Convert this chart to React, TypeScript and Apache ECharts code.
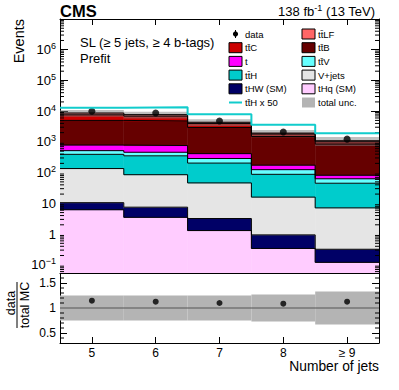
import React, { useEffect, useRef } from "react";
import * as echarts from "echarts";

// ---------- data ----------
const binLabels = ["5", "6", "7", "8", "≥ 9"];
const binCenters = [5, 6, 7, 8, 9];

// processes, stacked bottom -> top
const tHq = [6.2, 3.5, 1.3, 0.34, 0.12];
const tHW = [4.3, 4.0, 1.9, 0.6, 0.2];
const vJets = [125, 78, 43, 15, 6.8];
const ttH = [258, 266, 158, 72, 38];
const ttV = [126, 108, 84, 37, 18];
const singleT = [270, 300, 127, 50, 19];
const ttB = [4210, 4040, 2535, 1325, 768];
const ttC = [2600, 2100, 1000, 300, 160];
const ttLF = [1100, 800, 400, 130, 80];

const dataCounts = [10000, 8700, 4800, 2100, 1230];
const ratioValues = [1.146, 1.126, 1.1, 1.086, 1.126];
const relUnc = [0.25, 0.25, 0.25, 0.27, 0.33];
const ttHScale = 50;

const yTickLabelsRatio = [0.5, 1, 1.5];
const ratioMinor = [0.4, 0.6, 0.7, 0.8, 0.9, 1.1, 1.2, 1.3, 1.4, 1.6];

// ---------- styling ----------
const FONT = "'Liberation Sans', Arial, Helvetica, sans-serif";
const Y_MIN = 0.054;
const Y_MAX = 1e7;
const R_MIN = 0.3;
const R_MAX = 1.7;
const X_MIN = 4.5;
const X_MAX = 9.5;

const layers = [
  { name: "tHq (SM)", values: tHq, color: "#ffccff" },
  { name: "tHW (SM)", values: tHW, color: "#000066" },
  { name: "V+jets", values: vJets, color: "#e5e5e5" },
  { name: "tt\u0304H", values: ttH, color: "#00cccc" },
  { name: "tt\u0304V", values: ttV, color: "#66ffff" },
  { name: "t", values: singleT, color: "#ff00ff" },
  { name: "tt\u0304B", values: ttB, color: "#660000" },
  { name: "tt\u0304C", values: ttC, color: "#cc0000" },
  { name: "tt\u0304LF", values: ttLF, color: "#ff6666" },
];

const cum = layers.map((_, l) =>
  binCenters.map((__, i) => layers.slice(0, l + 1).reduce((s, L) => s + L.values[i], 0))
);
const total = cum[cum.length - 1];

const minorLog: number[] = [];
for (let d = -2; d <= 6; d++) {
  for (let k = 2; k <= 9; k++) {
    const v = k * Math.pow(10, d);
    if (v > Y_MIN && v < Y_MAX) minorLog.push(v);
  }
}

const stepData = (vals: number[]) =>
  vals.map((v, i) => [binCenters[i] - 0.5, v]).concat([[binCenters[binCenters.length - 1] + 0.5, vals[vals.length - 1]]]);

const colorOf = (n: string) => layers.find((L) => L.name === n)!.color;

const legendEntries: { label: string; kind: string; color?: string }[] = [
  { label: "data", kind: "data" },
  { label: "tt\u0304LF", kind: "box", color: colorOf("tt\u0304LF") },
  { label: "tt\u0304C", kind: "box", color: colorOf("tt\u0304C") },
  { label: "tt\u0304B", kind: "box", color: colorOf("tt\u0304B") },
  { label: "t", kind: "box", color: colorOf("t") },
  { label: "tt\u0304V", kind: "box", color: colorOf("tt\u0304V") },
  { label: "tt\u0304H", kind: "box", color: colorOf("tt\u0304H") },
  { label: "V+jets", kind: "box", color: colorOf("V+jets") },
  { label: "tHW (SM)", kind: "box", color: colorOf("tHW (SM)") },
  { label: "tHq (SM)", kind: "box", color: colorOf("tHq (SM)") },
  { label: "tt\u0304H x 50", kind: "line" },
  { label: "total unc.", kind: "unc" },
];

const LINE_COLOR = "#11cccc";
const UNC_MAIN = "rgba(128,128,128,0.5)";
const UNC_RATIO = "#b4b4b4";

function buildLegend(): any[] {
  const out: any[] = [];
  const colX = [229, 302];
  const row0 = 34;
  const dy = 13.7;
  legendEntries.forEach((e, idx) => {
    const col = idx % 2;
    const row = Math.floor(idx / 2);
    const x = colX[col];
    const y = row0 + row * dy;
    if (e.kind === "box") {
      out.push({ type: "rect", shape: { x: x, y: y - 5, width: 13, height: 10 }, style: { fill: e.color, stroke: "#000", lineWidth: 1 } });
    } else if (e.kind === "unc") {
      out.push({ type: "rect", shape: { x: x, y: y - 5, width: 13, height: 10 }, style: { fill: UNC_RATIO } });
    } else if (e.kind === "data") {
      out.push({ type: "line", shape: { x1: x + 6.5, y1: y - 4, x2: x + 6.5, y2: y + 4 }, style: { stroke: "#000", lineWidth: 1 } });
      out.push({ type: "circle", shape: { cx: x + 6.5, cy: y, r: 2.6 }, style: { fill: "#000" } });
    } else if (e.kind === "line") {
      out.push({ type: "line", shape: { x1: x, y1: y, x2: x + 13, y2: y }, style: { stroke: LINE_COLOR, lineWidth: 2 } });
    }
    out.push({
      type: "text",
      x: x + 16,
      y: y,
      style: { text: e.label, fontSize: 9.5, fontFamily: FONT, fill: "#000", verticalAlign: "middle", align: "left" },
    });
  });
  return out;
}

const logLabel = (v: number) => {
  const e = Math.log10(v);
  const r = Math.round(e);
  if (Math.abs(e - r) > 1e-6 || r > 6) return "";
  if (r === 0) return "{b|1}";
  if (r === 1) return "{b|10}";
  return "{b|10}{s|" + (r < 0 ? "\u2212" + -r : String(r)) + "}";
};

function makeOption(): any {
  const axisLine = { show: true, lineStyle: { color: "#000", width: 1 } };
  const hiddenLabel = { show: false };
  const noSplit = { show: false };

  const xAxes = [
    {
      gridIndex: 0, type: "value", min: X_MIN, max: X_MAX, position: "bottom",
      axisLine, splitLine: noSplit, axisLabel: hiddenLabel,
      axisTick: { show: true, inside: true, length: 6, customValues: binCenters, lineStyle: { color: "#000" } },
    },
    {
      gridIndex: 0, type: "value", min: X_MIN, max: X_MAX, position: "top",
      axisLine, splitLine: noSplit, axisLabel: hiddenLabel,
      axisTick: { show: true, inside: true, length: 6, customValues: binCenters, lineStyle: { color: "#000" } },
    },
    {
      gridIndex: 1, type: "value", min: X_MIN, max: X_MAX, position: "bottom",
      axisLine, splitLine: noSplit,
      axisLabel: {
        show: true, customValues: binCenters, fontSize: 12, fontFamily: FONT, color: "#000", margin: 4,
        formatter: (v: number) => binLabels[binCenters.indexOf(v)] ?? "",
      },
      axisTick: { show: true, inside: true, length: 6, customValues: binCenters, lineStyle: { color: "#000" } },
    },
  ];

  const richLog = {
    b: { fontSize: 13, fontFamily: FONT, color: "#000", lineHeight: 16 },
    s: { fontSize: 9, fontFamily: FONT, color: "#000", lineHeight: 8, verticalAlign: "top" },
  };

  const yAxes = [
    {
      gridIndex: 0, type: "log", logBase: 10, min: Y_MIN, max: Y_MAX, position: "left",
      axisLine, splitLine: noSplit,
      axisTick: { show: true, inside: true, length: 8, lineStyle: { color: "#000" } },
      axisLabel: { show: true, formatter: logLabel, rich: richLog, margin: 4, showMinLabel: false },
    },
    {
      gridIndex: 0, type: "log", logBase: 10, min: Y_MIN, max: Y_MAX, position: "right",
      axisLine, splitLine: noSplit, axisLabel: hiddenLabel,
      axisTick: { show: true, inside: true, length: 8, lineStyle: { color: "#000" } },
    },
    {
      gridIndex: 1, type: "value", min: R_MIN, max: R_MAX, position: "left",
      axisLine, splitLine: noSplit,
      axisLabel: { show: true, customValues: yTickLabelsRatio, fontSize: 12, fontFamily: FONT, color: "#000", margin: 4 },
      axisTick: { show: true, inside: true, length: 7, customValues: yTickLabelsRatio, lineStyle: { color: "#000" } },
    },
    {
      gridIndex: 1, type: "value", min: R_MIN, max: R_MAX, position: "right",
      axisLine, splitLine: noSplit, axisLabel: hiddenLabel,
      axisTick: { show: true, inside: true, length: 7, customValues: yTickLabelsRatio, lineStyle: { color: "#000" } },
    },
  ];

  const series: any[] = [];

  // stacked fills
  series.push({
    type: "custom", xAxisIndex: 0, yAxisIndex: 0, clip: true, silent: true,
    data: binCenters.map((c, i) => [c, total[i]]),
    renderItem: (params: any, api: any) => {
      const i = params.dataIndex;
      const c = binCenters[i];
      const children = layers.map((L, l) => {
        const lo = l === 0 ? Y_MIN : cum[l - 1][i];
        const hi = cum[l][i];
        const p0 = api.coord([c - 0.5, hi]);
        const p1 = api.coord([c + 0.5, lo]);
        return {
          type: "rect",
          shape: { x: p0[0], y: p0[1], width: p1[0] - p0[0], height: p1[1] - p0[1] },
          style: { fill: L.color, stroke: L.color, lineWidth: 0.5 },
        };
      });
      return { type: "group", children };
    },
  });

  // step outlines of each layer
  layers.forEach((L, l) => {
    series.push({
      type: "line", xAxisIndex: 0, yAxisIndex: 0, step: "end", symbol: "none", silent: true,
      data: stepData(cum[l]),
      lineStyle: { color: "#000", width: 1 },
    });
  });

  // total uncertainty band
  series.push({
    type: "custom", xAxisIndex: 0, yAxisIndex: 0, clip: true, silent: true,
    data: binCenters.map((c, i) => [c, total[i]]),
    renderItem: (params: any, api: any) => {
      const i = params.dataIndex;
      const c = binCenters[i];
      const p0 = api.coord([c - 0.5, total[i] * (1 + relUnc[i])]);
      const p1 = api.coord([c + 0.5, total[i] * (1 - relUnc[i])]);
      return {
        type: "rect",
        shape: { x: p0[0], y: p0[1], width: p1[0] - p0[0], height: p1[1] - p0[1] },
        style: { fill: UNC_MAIN },
      };
    },
  });

  // ttH x 50
  series.push({
    type: "line", xAxisIndex: 0, yAxisIndex: 0, step: "end", symbol: "none", silent: true,
    data: stepData(ttH.map((v) => v * ttHScale)),
    lineStyle: { color: LINE_COLOR, width: 2 },
  });

  // data
  series.push({
    type: "scatter", xAxisIndex: 0, yAxisIndex: 0, symbol: "circle", symbolSize: 7, silent: true,
    data: binCenters.map((c, i) => [c, dataCounts[i]]),
    itemStyle: { color: "#000" },
  });

  // minor log ticks (both sides)
  series.push({
    type: "custom", xAxisIndex: 0, yAxisIndex: 0, clip: false, silent: true,
    data: minorLog.map((v) => [X_MIN, v]),
    renderItem: (params: any, api: any) => {
      const v = api.value(1);
      const L = api.coord([X_MIN, v]);
      const R = api.coord([X_MAX, v]);
      return {
        type: "group",
        children: [
          { type: "line", shape: { x1: L[0], y1: L[1], x2: L[0] + 4, y2: L[1] }, style: { stroke: "#000", lineWidth: 1 } },
          { type: "line", shape: { x1: R[0] - 4, y1: R[1], x2: R[0], y2: R[1] }, style: { stroke: "#000", lineWidth: 1 } },
        ],
      };
    },
  });

  // ratio band
  series.push({
    type: "custom", xAxisIndex: 2, yAxisIndex: 2, clip: true, silent: true,
    data: binCenters.map((c, i) => [c, 1]),
    renderItem: (params: any, api: any) => {
      const i = params.dataIndex;
      const c = binCenters[i];
      const p0 = api.coord([c - 0.5, 1 + relUnc[i]]);
      const p1 = api.coord([c + 0.5, 1 - relUnc[i]]);
      return {
        type: "rect",
        shape: { x: p0[0], y: p0[1], width: p1[0] - p0[0], height: p1[1] - p0[1] },
        style: { fill: UNC_RATIO },
      };
    },
  });

  // ratio = 1 line
  series.push({
    type: "line", xAxisIndex: 2, yAxisIndex: 2, symbol: "none", silent: true,
    data: [[X_MIN, 1], [X_MAX, 1]],
    lineStyle: { color: "#555", width: 1 },
  });

  // ratio points
  series.push({
    type: "scatter", xAxisIndex: 2, yAxisIndex: 2, symbol: "circle", symbolSize: 6, silent: true,
    data: binCenters.map((c, i) => [c, ratioValues[i]]),
    itemStyle: { color: "#000" },
  });

  // ratio minor ticks
  series.push({
    type: "custom", xAxisIndex: 2, yAxisIndex: 2, clip: false, silent: true,
    data: ratioMinor.map((v) => [X_MIN, v]),
    renderItem: (params: any, api: any) => {
      const v = api.value(1);
      const L = api.coord([X_MIN, v]);
      const R = api.coord([X_MAX, v]);
      return {
        type: "group",
        children: [
          { type: "line", shape: { x1: L[0], y1: L[1], x2: L[0] + 4, y2: L[1] }, style: { stroke: "#000", lineWidth: 1 } },
          { type: "line", shape: { x1: R[0] - 4, y1: R[1], x2: R[0], y2: R[1] }, style: { stroke: "#000", lineWidth: 1 } },
        ],
      };
    },
  });

  const graphic: any[] = [
    { type: "text", x: 60, y: 11, style: { text: "CMS", fontSize: 16.5, fontWeight: "bold", fontFamily: FONT, fill: "#000", verticalAlign: "middle", align: "left" } },
    {
      type: "text", x: 375, y: 11,
      style: {
        text: "138 fb{s|-1} (13 TeV)", fontSize: 13, fontFamily: FONT, fill: "#000", align: "right", verticalAlign: "middle", lineHeight: 16,
        rich: { s: { fontSize: 9, fontFamily: FONT, fill: "#000", lineHeight: 8, verticalAlign: "top" } },
      },
    },
    { type: "text", x: 19, y: 19, rotation: Math.PI / 2, style: { text: "Events", fontSize: 14.5, fontFamily: FONT, fill: "#000", align: "right", verticalAlign: "middle" } },
    { type: "text", x: 80, y: 42, style: { text: "SL (\u2265 5 jets, \u2265 4 b-tags)", fontSize: 13, fontFamily: FONT, fill: "#000", align: "left", verticalAlign: "middle" } },
    { type: "text", x: 80, y: 58, style: { text: "Prefit", fontSize: 13, fontFamily: FONT, fill: "#000", align: "left", verticalAlign: "middle" } },
    { type: "text", x: 11, y: 303, rotation: Math.PI / 2, style: { text: "data", fontSize: 12.5, fontFamily: FONT, fill: "#000", align: "center", verticalAlign: "middle" } },
    { type: "line", shape: { x1: 17, y1: 282, x2: 17, y2: 328 }, style: { stroke: "#000", lineWidth: 1 } },
    { type: "text", x: 24.5, y: 305, rotation: Math.PI / 2, style: { text: "total MC", fontSize: 12.5, fontFamily: FONT, fill: "#000", align: "center", verticalAlign: "middle" } },
    { type: "text", x: 379, y: 366, style: { text: "Number of jets", fontSize: 13.8, fontFamily: FONT, fill: "#000", align: "right", verticalAlign: "middle" } },
    ...buildLegend(),
  ];

  return {
    animation: false,
    backgroundColor: "#fff",
    textStyle: { fontFamily: FONT },
    grid: [
      { left: 60, top: 19, width: 319, height: 254 },
      { left: 60, top: 273, width: 319, height: 70 },
    ],
    xAxis: xAxes,
    yAxis: yAxes,
    series,
    graphic,
  };
}

export default function App() {
  const ref = useRef<HTMLDivElement>(null);
  useEffect(() => {
    if (!ref.current) return;
    const chart = echarts.init(ref.current, undefined, { renderer: "svg" });
    chart.setOption(makeOption());
    return () => chart.dispose();
  }, []);
  return (
    <div
      ref={ref}
      style={{ position: "fixed", left: 0, top: 0, width: 399, height: 390, background: "#fff" }}
    />
  );
}
